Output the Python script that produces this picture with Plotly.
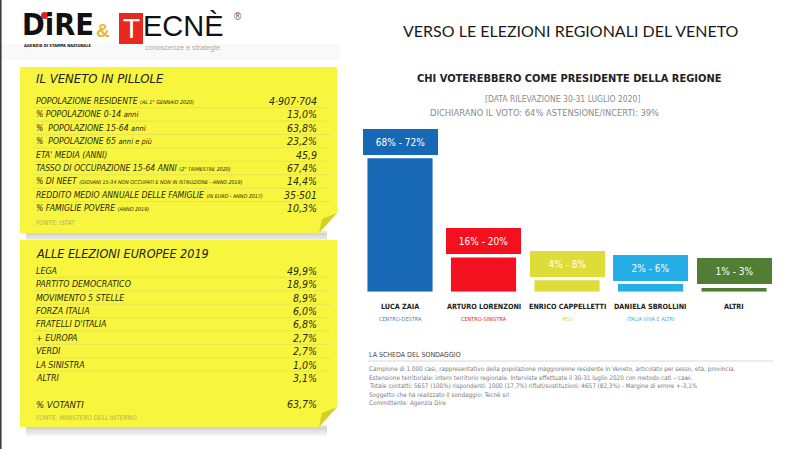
import plotly.graph_objects as go

W, H = 802, 449

# ---------------- data ----------------
candidates = ["LUCA ZAIA", "ARTURO LORENZONI", "ENRICO CAPPELLETTI", "DANIELA SBROLLINI", "ALTRI"]
coalitions = ["CENTRO-DESTRA", "CENTRO-SINISTRA", "M5S", "ITALIA VIVA E ALTRI", ""]
range_labels = ["68% - 72%", "16% - 20%", "4% - 8%", "2% - 6%", "1% - 3%"]
bar_values = [70, 18, 6, 4, 2]
bar_colors = ["#1769b6", "#f3101f", "#dedd38", "#25ade6", "#4f7e34"]
coalition_colors = ["#3d82c8", "#e8212c", "#d8d63a", "#3fb2e4", "#4f7e34"]

veneto_labels = [
    "POPOLAZIONE RESIDENTE", "% POPOLAZIONE 0-14", "%  POPOLAZIONE 15-64", "%  POPOLAZIONE 65",
    "ETA' MEDIA (ANNI)", "TASSO DI OCCUPAZIONE 15-64 ANNI", "% DI NEET",
    "REDDITO MEDIO ANNUALE DELLE FAMIGLIE", "% FAMIGLIE POVERE",
]
veneto_notes = [
    "(AL 1° GENNAIO 2020)", "anni", "anni", "anni e più", "", "(2° TRIMESTRE 2020)",
    "(GIOVANI 15-34 NON OCCUPATI E NON IN ISTRUZIONE - ANNO 2019)",
    "(IN EURO - ANNO 2017)", "(ANNO 2019)",
]
veneto_values = ["4·907·704", "13,0%", "63,8%", "23,2%", "45,9", "67,4%", "14,4%", "35·501", "10,3%"]

europee_parties = ["LEGA", "PARTITO DEMOCRATICO", "MOVIMENTO 5 STELLE", "FORZA ITALIA",
                   "FRATELLI D'ITALIA", "+ EUROPA", "VERDI", "LA SINISTRA", "ALTRI"]
europee_values = ["49,9%", "18,9%", "8,9%", "6,0%", "6,8%", "2,7%", "2,7%", "1,0%", "3,1%"]
votanti_value = "63,7%"

scheda_lines = [
    "Campione di 1.000 casi, rappresentativo della popolazione maggiorenne residente in Veneto, articolato per sesso, età, provincia.",
    "Estensione territoriale: intero territorio regionale. Interviste effettuate il 30-31 luglio 2020 con metodo cati – cawi.",
    "Totale contatti: 5657 (100%) rispondenti: 1000 (17,7%) rifiuti/sostituzioni: 4657 (82,3%) - Margine di errore +-3,1%",
    "Soggetto che ha realizzato il sondaggio: Tecnè srl",
    "Committente: Agenzia Dire",
]

# ---------------- helpers ----------------
NARROW = "DejaVu Sans Condensed, DejaVu Sans, sans-serif"
HAND = "DejaVu Sans Condensed, DejaVu Sans, sans-serif"
GEO = "Lato, Noto Sans, sans-serif"


def px(x):
    return x / W


def py(y):
    return 1 - y / H


shapes = []
annotations = []


def txt(x, y, text, size, color="#222", family=NARROW, xanchor="left", yanchor="middle", **kw):
    annotations.append(dict(x=px(x), y=py(y), xref="paper", yref="paper", text=text, showarrow=False,
                            xanchor=xanchor, yanchor=yanchor, borderpad=0,
                            font=dict(size=size, color=color, family=family), **kw))


def rect(x0, y0, x1, y1, fill, line=None):
    shapes.append(dict(type="rect", xref="paper", yref="paper", x0=px(x0), x1=px(x1), y0=py(y1), y1=py(y0),
                       fillcolor=fill, line=dict(width=0) if line is None else line, layer="below"))


def poly(points, fill, layer="below"):
    d = "M " + " L ".join(f"{px(a):.5f},{py(b):.5f}" for a, b in points) + " Z"
    shapes.append(dict(type="path", xref="paper", yref="paper", path=d, fillcolor=fill,
                       line=dict(width=0), layer=layer))


def hline(x0, x1, y, color, width=1):
    shapes.append(dict(type="line", xref="paper", yref="paper", x0=px(x0), x1=px(x1), y0=py(y), y1=py(y),
                       line=dict(color=color, width=width), layer="below"))


YELLOW = "#f8f53e"
FOLD = "#d6cf2a"

# header shadow band
rect(0, 44, 340, 60, "rgba(0,0,0,0.025)")
# left border line
shapes.append(dict(type="line", xref="paper", yref="paper", x0=px(0.8), x1=px(0.8), y0=0, y1=1,
                   line=dict(color="#333", width=1.5)))


def sticky(x0, y0, x1, y1):
    for i, a in enumerate([0.10, 0.08, 0.06, 0.04, 0.02]):
        rect(x0 + 6, y1 - 2 + i * 2, x1 - 10, y1 + 2 + i * 2, f"rgba(0,0,0,{a})")
    poly([(x0, y0), (x1, y0), (x1, y1 - 20), (x1 - 18, y1), (x0, y1)], YELLOW)
    poly([(x1, y1 - 20), (x1 - 18, y1), (x1 - 15, y1 - 14)], FOLD)


sticky(20, 67, 337, 233)
sticky(20, 240, 337, 427)

LINE_C = "#e6e35a"
ROW_C = "#2a2a10"
# ---- panel 1 ----
txt(35, 79, "<i>IL VENETO IN PILLOLE</i>", 13, "#222", HAND)
for i, (lab, note, val) in enumerate(zip(veneto_labels, veneto_notes, veneto_values)):
    y = 101 + i * 13.4
    t = f"<i>{lab}</i>"
    if note:
        small = 5.3 if note.startswith("(") else 7.5
        t += f" <span style='font-size:{small}px'><i>{note}</i></span>"
    txt(35, y, t, 8.6, ROW_C, HAND)
    txt(318, y, f"<i>{val}</i>", 10.5, ROW_C, HAND, xanchor="right")
    if i < len(veneto_labels) - 1:
        hline(33, 330, y + 6.7, LINE_C, 1)
txt(35, 223, "<i>FONTE: ISTAT</i>", 6.5, "#b5ae55", HAND)

# ---- panel 2 ----
txt(35, 253, "<i>ALLE ELEZIONI EUROPEE 2019</i>", 12.5, "#222", HAND)
for i, (lab, val) in enumerate(zip(europee_parties, europee_values)):
    y = 270.7 + i * 13.4
    txt(35, y, f"<i>{lab}</i>", 8.8, ROW_C, HAND)
    txt(318, y, f"<i>{val}</i>", 10.5, ROW_C, HAND, xanchor="right")
    if i < len(europee_parties) - 1:
        hline(33, 330, y + 6.7, LINE_C, 1)
txt(35, 404, "<i>% VOTANTI</i>", 9.5, ROW_C, HAND)
txt(318, 404, f"<i>{votanti_value}</i>", 10.5, ROW_C, HAND, xanchor="right")
txt(35, 418, "<i>FONTE: MINISTERO DELL'INTERNO</i>", 6.5, "#b5ae55", HAND)

# ---- logos ----
txt(21, 24, "<b>DiRE</b>", 30.5, "#111", NARROW)
shapes.append(dict(type="circle", xref="paper", yref="paper", x0=px(41), x1=px(48), y0=py(19), y1=py(12),
                   fillcolor="#e31e24", line=dict(width=0)))
txt(23, 46, "<b>AGENZIA DI STAMPA NAZIONALE</b>", 4.1, "#111", NARROW)
txt(103, 30, "<b>&</b>", 19, "#e9b53a", "Liberation Sans, sans-serif", xanchor="center")
rect(119, 13, 143, 44, "#e8291f")
txt(131, 28, "T", 28, "#ffffff", "Liberation Sans, sans-serif", xanchor="center")
txt(142, 26, "ECNÈ", 29, "#111", "Liberation Sans, sans-serif")
txt(238, 16, "®", 10, "#555", "Liberation Sans, sans-serif", xanchor="center")
txt(144, 47, "conoscenze e strategie", 7.3, "#aaa", "Liberation Sans, sans-serif")

# ---- header title ----
txt(570.5, 30, "VERSO LE ELEZIONI REGIONALI DEL VENETO", 16, "#1a1a1a", GEO, xanchor="center")

# ---- chart titles ----
txt(569, 78, "<b>CHI VOTEREBBERO COME PRESIDENTE DELLA REGIONE</b>", 11, "#222", NARROW, xanchor="center")
txt(562, 99, "[DATA RILEVAZIONE 30-31 LUGLIO 2020]", 8.5, "#8a8a8a", NARROW, xanchor="center")
txt(544, 113, "DICHIARANO IL VOTO: 64% ASTENSIONE/INCERTI: 39%", 9.3, "#8a8a8a", NARROW, xanchor="center")

# ---- range label boxes (data coords) ----
for c, v, lab, col in zip(candidates, bar_values, range_labels, bar_colors):
    annotations.append(dict(x=c, y=v, xref="x", yref="y", text=lab, showarrow=False, yanchor="bottom",
                            yshift=3.5, width=75, height=26, bgcolor=col, borderpad=0, borderwidth=0,
                            font=dict(size=10, color="white", family=NARROW)))
# names and coalitions under bars
for c, co, cc in zip(candidates, coalitions, coalition_colors):
    annotations.append(dict(x=c, y=0, xref="x", yref="y", text=f"<b>{c}</b>", showarrow=False,
                            yanchor="middle", yshift=-15, font=dict(size=7.2, color="#222", family=NARROW)))
    if co:
        annotations.append(dict(x=c, y=0, xref="x", yref="y", text=co, showarrow=False,
                                yanchor="middle", yshift=-27.5, font=dict(size=5.5, color=cc, family=NARROW)))

# ---- scheda ----
txt(368, 355, "LA SCHEDA DEL SONDAGGIO", 7, "#444", NARROW)
hline(368, 773, 361, "#d8d8d8", 1)
for i, line in enumerate(scheda_lines):
    txt(368, 369.3 + i * 8.4, line, 6.3, "#7a7a7a", NARROW)

fig = go.Figure(go.Bar(x=candidates, y=bar_values, marker=dict(color=bar_colors, line=dict(width=0)),
                       hoverinfo="skip"))
fig.update_layout(
    width=W, height=H, margin=dict(l=0, r=0, t=0, b=0),
    paper_bgcolor="white", plot_bgcolor="rgba(0,0,0,0)",
    bargap=0.22, showlegend=False,
    xaxis=dict(domain=[0.4467, 0.9673], range=[-0.5, 4.5], visible=False),
    yaxis=dict(domain=[0.3503, 0.69], range=[0, 80], visible=False),
    shapes=shapes, annotations=annotations,
)
fig.write_html("out.html", config={"displayModeBar": False},
               post_script="document.body.style.margin='0';document.body.style.overflow='hidden';")
